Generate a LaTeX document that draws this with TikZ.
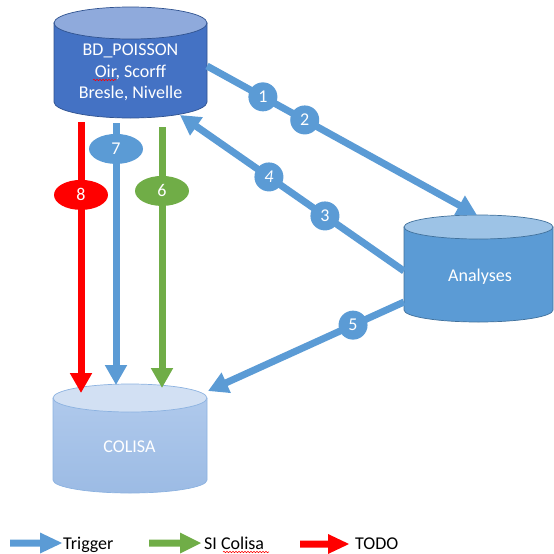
\documentclass[tikz,border=0pt]{standalone}
\usepackage{fontspec}
\setmainfont{Carlito}
\usetikzlibrary{arrows.meta,shapes.geometric,decorations.pathmorphing}
\definecolor{bdblue}{HTML}{4472C4}
\definecolor{bdtop}{HTML}{8FAADC}
\definecolor{bdline}{HTML}{2F528F}
\definecolor{anblue}{HTML}{5B9BD5}
\definecolor{antop}{HTML}{9DC3E6}
\definecolor{anline}{HTML}{41719C}
\definecolor{cotop}{HTML}{D2E0F3}
\definecolor{cobodyA}{HTML}{AFC9EC}
\definecolor{cobodyB}{HTML}{9CBBE4}
\definecolor{coline}{HTML}{8CB2E0}
\definecolor{trig}{HTML}{5B9BD5}
\definecolor{sig}{HTML}{70AD47}
\definecolor{todo}{HTML}{FF0000}
\begin{document}
\begin{tikzpicture}[x=1pt,y=-1pt,
  conn/.style={line width=7pt,-{Triangle[width=21pt,length=20pt]}},
  numc/.style={circle,fill=trig,text=white,minimum size=29pt,inner sep=0pt,font=\fontsize{18}{20}\selectfont},
  nume/.style={ellipse,text=white,minimum width=54pt,minimum height=30pt,inner sep=0pt,font=\fontsize{18}{20}\selectfont},
  lab/.style={font=\fontsize{18}{21}\selectfont,text=white,inner sep=0pt,anchor=base},
  leg/.style={font=\fontsize{18}{21}\selectfont,anchor=base west,inner sep=0pt},
  spell/.style={draw=red,line width=0.6pt,decorate,decoration={snake,amplitude=0.7pt,segment length=3pt}},
  cylline/.style={line width=0.7pt}]
\path[use as bounding box] (0,0) rectangle (554,554);

% BD_POISSON cylinder
\filldraw[fill=bdblue,draw=bdline,cylline] (54,23) -- (54,102)
  arc[start angle=180,end angle=360,x radius=76.5pt,y radius=16pt] -- (207,23) -- cycle;
\filldraw[fill=bdtop,draw=bdline,cylline] (130.5,23) ellipse[x radius=76.5pt,y radius=16pt];
\node[lab] (bd1) at (130.5,55) {BD\_POISSON};
\node[lab] (bd2) at (130.5,77) {Oir, Scorff};
\node[lab] (bd3) at (130.5,98) {Bresle, Nivelle};
\draw[spell] (93,80) -- (116,80);

% Analyses cylinder
\filldraw[fill=anblue,draw=anline,cylline] (404,227) -- (404,310)
  arc[start angle=180,end angle=360,x radius=74.5pt,y radius=12pt] -- (553,227) -- cycle;
\filldraw[fill=antop,draw=anline,cylline] (478.5,227) ellipse[x radius=74.5pt,y radius=12pt];
\node[lab] (an) at (480,281) {Analyses};

% COLISA cylinder
\shade[top color=cobodyA,bottom color=cobodyB] (53,398) -- (53,480)
  arc[start angle=180,end angle=360,x radius=77pt,y radius=13pt] -- (207,398) -- cycle;
\draw[coline,cylline] (53,398) -- (53,480)
  arc[start angle=180,end angle=360,x radius=77pt,y radius=13pt] -- (207,398);
\filldraw[fill=cotop,draw=coline,cylline] (130,398) ellipse[x radius=77pt,y radius=14pt];
\node[lab] (co) at (129.5,452) {COLISA};

% connector ends
\coordinate (bdR) at (207,66);
\coordinate (anT) at (477,215);
\coordinate (anL) at (404,271);
\coordinate (bdB) at (180,115);
\coordinate (anL2) at (404,302);
\coordinate (coR) at (208,391);
\coordinate (r0) at (81,122);  \coordinate (r1) at (81,393);
\coordinate (b0) at (116,123); \coordinate (b1) at (116,385);
\coordinate (g0) at (162,127); \coordinate (g1) at (162,388);

\draw[conn,trig] (bdR) -- node[numc,pos=0.207] (n1) {1} node[numc,pos=0.362] (n2) {2} (anT);
\draw[conn,trig] (anL) -- node[numc,pos=0.353] (n3) {3} node[numc,pos=0.603] (n4) {\itshape 4} (bdB);
\draw[conn,trig] (anL2) -- node[numc,pos=0.26] (n5) {5} (coR);
\draw[conn,todo] (r0) -- node[nume,fill=todo,pos=0.269] (n8) {8} (r1);
\draw[conn,trig] (b0) -- node[nume,fill=trig,pos=0.099] (n7) {7} (b1);
\draw[conn,sig] (g0) -- node[nume,fill=sig,pos=0.245] (n6) {6} (g1);

% legend
\fill[trig] (10,539.5) -- (40,539.5) -- (40,532.5) -- (62,543) -- (40,553.5) -- (40,546.5) -- (10,546.5) -- cycle;
\fill[sig] (149,539.5) -- (180,539.5) -- (180,532.5) -- (201,543) -- (180,553.5) -- (180,546.5) -- (149,546.5) -- cycle;
\fill[todo] (300,540.5) -- (328,540.5) -- (328,534) -- (349,544) -- (328,554) -- (328,547.5) -- (300,547.5) -- cycle;
\node[leg] (tTrig) at (63,549) {Trigger};
\node[leg] (tSI) at (204,549) {SI Colisa};
\node[leg] (tTodo) at (355,549) {TODO};
\draw[spell] (223,552) -- (269,552);
\end{tikzpicture}
\end{document}
